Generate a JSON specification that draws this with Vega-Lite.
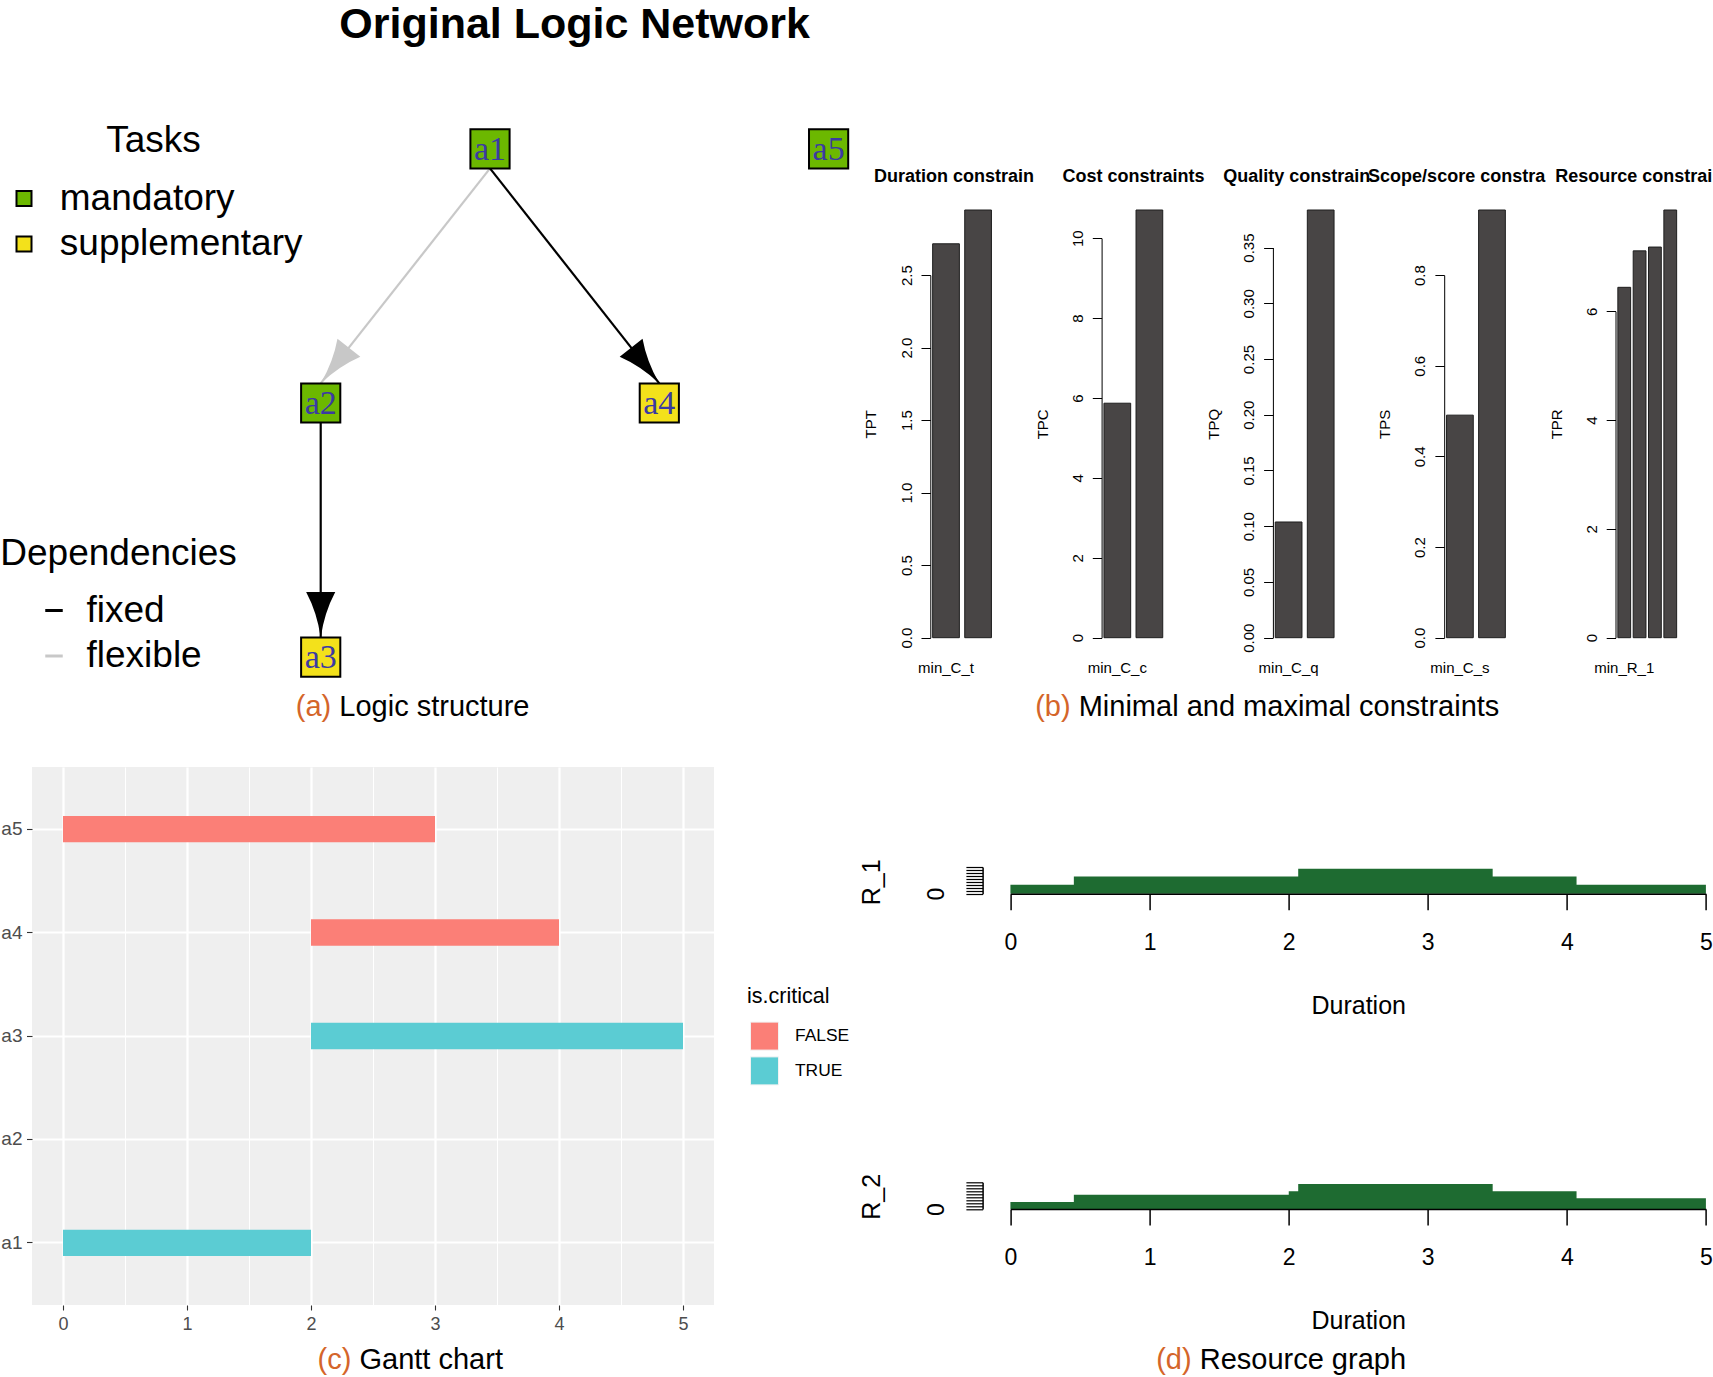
{
  "$schema": "https://vega.github.io/schema/vega-lite/v6.json",
  "padding": {"top": 3, "bottom": 0, "left": 0, "right": 0},
  "background": "white",
  "title": {"text": "Original Logic Network", "anchor": "start", "dx": 339, "fontSize": 43, "fontWeight": "bold", "baseline": "alphabetic", "offset": 42.4, "color": "black"},
  "config": {
    "font": "Liberation Sans",
    "view": {"stroke": null},
    "axis": {"labelColor": "black", "titleColor": "black", "tickColor": "black", "domainColor": "black", "titleFontWeight": "normal", "labelFont": "Liberation Sans", "titleFont": "Liberation Sans", "grid": false},
    "legend": {"labelColor": "black", "titleColor": "black", "titleFontWeight": "normal", "labelFont": "Liberation Sans", "titleFont": "Liberation Sans"},
    "title": {"color": "black", "font": "Liberation Sans"}
  },
  "resolve": {
    "scale": {"color": "independent", "fill": "independent", "stroke": "independent", "angle": "independent"},
    "legend": {"color": "independent", "fill": "independent", "stroke": "independent"}
  },
  "datasets": {
    "nodes": [
      {"id": "a1", "lx": 2, "ly": 0, "type": "mandatory"},
      {"id": "a2", "lx": 1, "ly": 1, "type": "mandatory"},
      {"id": "a3", "lx": 1, "ly": 2, "type": "supplementary"},
      {"id": "a4", "lx": 3, "ly": 1, "type": "supplementary"},
      {"id": "a5", "lx": 4, "ly": 0, "type": "mandatory"}
    ],
    "edges": [
      {"from": "a1", "to": "a2", "dependency": "flexible"},
      {"from": "a1", "to": "a4", "dependency": "fixed"},
      {"from": "a2", "to": "a3", "dependency": "fixed"}
    ],
    "constraints": [
      {"panel": "Duration", "name": "min_C_t", "value": 2.716},
      {"panel": "Duration", "name": "max_C_t", "value": 2.949},
      {"panel": "Cost", "name": "min_C_c", "value": 5.87},
      {"panel": "Cost", "name": "max_C_c", "value": 10.707},
      {"panel": "Quality", "name": "min_C_q", "value": 0.1038},
      {"panel": "Quality", "name": "max_C_q", "value": 0.3837},
      {"panel": "Scope", "name": "min_C_s", "value": 0.491},
      {"panel": "Scope", "name": "max_C_s", "value": 0.9436},
      {"panel": "Resource", "name": "min_R_1", "value": 6.44},
      {"panel": "Resource", "name": "min_R_2", "value": 7.11},
      {"panel": "Resource", "name": "max_R_1", "value": 7.18},
      {"panel": "Resource", "name": "max_R_2", "value": 7.861}
    ],
    "gantt": [
      {"task": "a1", "start": 0, "end": 2, "critical": "TRUE"},
      {"task": "a2", "start": 2, "end": 2, "critical": "TRUE"},
      {"task": "a3", "start": 2, "end": 5, "critical": "TRUE"},
      {"task": "a4", "start": 2, "end": 4, "critical": "FALSE"},
      {"task": "a5", "start": 0, "end": 3, "critical": "FALSE"}
    ],
    "resource": [
      {"resource": "R_1", "time": 0, "level": 3.03},
      {"resource": "R_1", "time": 0.456, "level": 5.83},
      {"resource": "R_1", "time": 2.069, "level": 8.43},
      {"resource": "R_1", "time": 3.467, "level": 5.83},
      {"resource": "R_1", "time": 4.07, "level": 3.03},
      {"resource": "R_1", "time": 5, "level": 3.03},
      {"resource": "R_2", "time": 0, "level": 2.36},
      {"resource": "R_2", "time": 0.456, "level": 4.82},
      {"resource": "R_2", "time": 2.001, "level": 5.97},
      {"resource": "R_2", "time": 2.069, "level": 8.43},
      {"resource": "R_2", "time": 3.467, "level": 5.97},
      {"resource": "R_2", "time": 4.07, "level": 3.61},
      {"resource": "R_2", "time": 5, "level": 3.61}
    ],
    "captions": [
      {"panel": "a", "tag": "(a)", "body": "Logic structure"},
      {"panel": "b", "tag": "(b)", "body": "Minimal and maximal constraints"},
      {"panel": "c", "tag": "(c)", "body": "Gantt chart"},
      {"panel": "d", "tag": "(d)", "body": "Resource graph"}
    ]
  },
  "spacing": 45,
  "vconcat": [
    {
      "spacing": 10.7,
      "vconcat": [
        {
          "bounds": "flush",
          "spacing": 107.3,
          "hconcat": [
            {
              "width": 791,
              "height": 427.7,
              "layer": [
                {
                  "data": {"name": "edges"},
                  "transform": [
                    {"lookup": "from", "from": {"data": {"name": "nodes"}, "key": "id", "fields": ["lx", "ly"]}, "as": ["x1", "y1"]},
                    {"lookup": "to", "from": {"data": {"name": "nodes"}, "key": "id", "fields": ["lx", "ly"]}, "as": ["x2", "y2"]}
                  ],
                  "mark": {"type": "rule", "strokeWidth": 2.2, "yOffset": 19.6, "y2Offset": -19.6},
                  "encoding": {
                    "x": {"field": "x1", "type": "quantitative", "scale": {"domain": [-0.7053, 3.9669], "nice": false, "zero": false}, "axis": null},
                    "y": {"field": "y1", "type": "quantitative", "scale": {"domain": [0.2408, 1.9233], "nice": false, "zero": false, "reverse": true}, "axis": null},
                    "x2": {"field": "x2"},
                    "y2": {"field": "y2"},
                    "stroke": {
                      "field": "dependency", "type": "nominal",
                      "scale": {"domain": ["fixed", "flexible"], "range": ["#000000", "#C8C8C8"]},
                      "legend": {"title": "Dependencies", "orient": "none", "legendX": -31.7, "legendY": 326, "padding": 0, "titleFontSize": 37, "titleLimit": 600, "labelFontSize": 37, "labelLimit": 600, "symbolType": "stroke", "symbolSize": 306, "symbolStrokeWidth": 3, "symbolOffset": 35.2, "labelOffset": 14, "titlePadding": 19, "rowPadding": 7.5}
                    }
                  }
                },
                {
                  "data": {"name": "edges"},
                  "transform": [
                    {"lookup": "to", "from": {"data": {"name": "nodes"}, "key": "id", "fields": ["lx", "ly"]}, "as": ["tx", "ty"]}
                  ],
                  "mark": {"type": "point", "shape": "M-0.32,-1 L0.32,-1 Q0.08,-0.55 0,0 Q-0.08,-0.55 -0.32,-1 Z", "size": 8281, "filled": true, "opacity": 1, "strokeWidth": 0, "yOffset": -19.6},
                  "encoding": {
                    "x": {"field": "tx", "type": "quantitative"},
                    "y": {"field": "ty", "type": "quantitative"},
                    "color": {"field": "dependency", "type": "nominal", "scale": {"domain": ["fixed", "flexible"], "range": ["#000000", "#C8C8C8"]}, "legend": null},
                    "angle": {"field": "to", "type": "nominal", "scale": {"type": "ordinal", "domain": ["a2", "a4", "a3"], "range": [38.3, -38.3, 0]}, "legend": null}
                  }
                },
                {
                  "data": {"name": "nodes"},
                  "mark": {"type": "point", "shape": "square", "size": 1536, "filled": true, "stroke": "black", "strokeWidth": 2, "opacity": 1},
                  "encoding": {
                    "x": {"field": "lx", "type": "quantitative"},
                    "y": {"field": "ly", "type": "quantitative"},
                    "fill": {
                      "field": "type", "type": "nominal",
                      "scale": {"domain": ["mandatory", "supplementary"], "range": ["#6CB800", "#F3E11B"]},
                      "legend": {"title": "Tasks", "orient": "none", "legendX": -26.5, "legendY": -87, "padding": 0, "titleFontSize": 37, "titleLimit": 600, "titleAnchor": "middle", "titleAlign": "center", "labelFontSize": 37, "labelLimit": 600, "symbolType": "square", "symbolSize": 225, "symbolStrokeColor": "black", "symbolStrokeWidth": 2, "labelOffset": 17.3, "titlePadding": 20, "rowPadding": 7.6}
                    }
                  }
                },
                {
                  "data": {"name": "nodes"},
                  "mark": {"type": "text", "font": "Liberation Serif", "fontSize": 34, "color": "#3b3aa3", "align": "center", "baseline": "middle", "dy": 1},
                  "encoding": {
                    "x": {"field": "lx", "type": "quantitative"},
                    "y": {"field": "ly", "type": "quantitative"},
                    "text": {"field": "id"}
                  }
                }
              ]
            },
            {
              "width": 63.5, "height": 427.7,
              "data": {"name": "constraints"},
              "transform": [{"filter": "datum.panel == 'Duration'"}],
              "title": {"text": "Duration constrain", "anchor": "start", "frame": "group", "dx": -56.3, "fontSize": 18, "fontWeight": "bold", "baseline": "alphabetic", "offset": 9.4},
              "mark": {"type": "bar", "fill": "#484545", "stroke": "#1e1e1e", "strokeWidth": 1},
              "encoding": {
                "x": {"field": "name", "type": "nominal", "sort": null, "scale": {"paddingInner": 0.1667, "paddingOuter": 0.0733}, "axis": {"title": null, "labelAngle": 0, "ticks": false, "tickSize": 0, "domain": false, "labelPadding": 34.4, "labelBaseline": "alphabetic", "labelFontSize": 15, "labelOverlap": false, "labelExpr": "datum.index == 0 ? datum.label : ''"}},
                "y": {"field": "value", "type": "quantitative", "scale": {"nice": false}, "axis": {"title": "TPT", "values": [0, 0.5, 1, 1.5, 2, 2.5], "format": ".1f", "labelAngle": -90, "labelAlign": "center", "labelBaseline": "alphabetic", "labelPadding": 10, "tickSize": 9.3, "labelFontSize": 15, "labelOverlap": false, "domainDash": [362.6, 3000], "titleFontSize": 15, "titleX": -54.5, "titleY": 213.85, "titleBaseline": "alphabetic", "titleAngle": 270}}
              }
            },
            {
              "width": 63.5, "height": 427.7,
              "data": {"name": "constraints"},
              "transform": [{"filter": "datum.panel == 'Cost'"}],
              "title": {"text": "Cost constraints", "anchor": "start", "frame": "group", "dx": -39.2, "fontSize": 18, "fontWeight": "bold", "baseline": "alphabetic", "offset": 9.4},
              "mark": {"type": "bar", "fill": "#484545", "stroke": "#1e1e1e", "strokeWidth": 1},
              "encoding": {
                "x": {"field": "name", "type": "nominal", "sort": null, "scale": {"paddingInner": 0.1667, "paddingOuter": 0.0733}, "axis": {"title": null, "labelAngle": 0, "ticks": false, "tickSize": 0, "domain": false, "labelPadding": 34.4, "labelBaseline": "alphabetic", "labelFontSize": 15, "labelOverlap": false, "labelExpr": "datum.index == 0 ? datum.label : ''"}},
                "y": {"field": "value", "type": "quantitative", "scale": {"nice": false}, "axis": {"title": "TPC", "values": [0, 2, 4, 6, 8, 10], "format": "d", "labelAngle": -90, "labelAlign": "center", "labelBaseline": "alphabetic", "labelPadding": 10, "tickSize": 9.3, "labelFontSize": 15, "labelOverlap": false, "domainDash": [399.5, 3000], "titleFontSize": 15, "titleX": -54.5, "titleY": 213.85, "titleBaseline": "alphabetic", "titleAngle": 270}}
              }
            },
            {
              "width": 63.5, "height": 427.7,
              "data": {"name": "constraints"},
              "transform": [{"filter": "datum.panel == 'Quality'"}],
              "title": {"text": "Quality constrain", "anchor": "start", "frame": "group", "dx": -49.7, "fontSize": 18, "fontWeight": "bold", "baseline": "alphabetic", "offset": 9.4},
              "mark": {"type": "bar", "fill": "#484545", "stroke": "#1e1e1e", "strokeWidth": 1},
              "encoding": {
                "x": {"field": "name", "type": "nominal", "sort": null, "scale": {"paddingInner": 0.1667, "paddingOuter": 0.0733}, "axis": {"title": null, "labelAngle": 0, "ticks": false, "tickSize": 0, "domain": false, "labelPadding": 34.4, "labelBaseline": "alphabetic", "labelFontSize": 15, "labelOverlap": false, "labelExpr": "datum.index == 0 ? datum.label : ''"}},
                "y": {"field": "value", "type": "quantitative", "scale": {"nice": false}, "axis": {"title": "TPQ", "values": [0, 0.05, 0.1, 0.15, 0.2, 0.25, 0.3, 0.35], "format": ".2f", "labelAngle": -90, "labelAlign": "center", "labelBaseline": "alphabetic", "labelPadding": 10, "tickSize": 9.3, "labelFontSize": 15, "labelOverlap": false, "domainDash": [390.2, 3000], "titleFontSize": 15, "titleX": -54.5, "titleY": 213.85, "titleBaseline": "alphabetic", "titleAngle": 270}}
              }
            },
            {
              "width": 63.5, "height": 427.7,
              "data": {"name": "constraints"},
              "transform": [{"filter": "datum.panel == 'Scope'"}],
              "title": {"text": "Scope/score constra", "anchor": "start", "frame": "group", "dx": -76.1, "fontSize": 18, "fontWeight": "bold", "baseline": "alphabetic", "offset": 9.4},
              "mark": {"type": "bar", "fill": "#484545", "stroke": "#1e1e1e", "strokeWidth": 1},
              "encoding": {
                "x": {"field": "name", "type": "nominal", "sort": null, "scale": {"paddingInner": 0.1667, "paddingOuter": 0.0733}, "axis": {"title": null, "labelAngle": 0, "ticks": false, "tickSize": 0, "domain": false, "labelPadding": 34.4, "labelBaseline": "alphabetic", "labelFontSize": 15, "labelOverlap": false, "labelExpr": "datum.index == 0 ? datum.label : ''"}},
                "y": {"field": "value", "type": "quantitative", "scale": {"nice": false}, "axis": {"title": "TPS", "values": [0, 0.2, 0.4, 0.6, 0.8], "format": ".1f", "labelAngle": -90, "labelAlign": "center", "labelBaseline": "alphabetic", "labelPadding": 10, "tickSize": 9.3, "labelFontSize": 15, "labelOverlap": false, "domainDash": [362.6, 3000], "titleFontSize": 15, "titleX": -54.5, "titleY": 213.85, "titleBaseline": "alphabetic", "titleAngle": 270}}
              }
            },
            {
              "width": 63.5, "height": 427.7,
              "data": {"name": "constraints"},
              "transform": [{"filter": "datum.panel == 'Resource'"}],
              "title": {"text": "Resource constrai", "anchor": "start", "frame": "group", "dx": -60.3, "fontSize": 18, "fontWeight": "bold", "baseline": "alphabetic", "offset": 9.4},
              "mark": {"type": "bar", "fill": "#484545", "stroke": "#1e1e1e", "strokeWidth": 1},
              "encoding": {
                "x": {"field": "name", "type": "nominal", "sort": null, "scale": {"paddingInner": 0.1667, "paddingOuter": 0.1533}, "axis": {"title": null, "labelAngle": 0, "ticks": false, "tickSize": 0, "domain": false, "labelPadding": 34.4, "labelBaseline": "alphabetic", "labelFontSize": 15, "labelOverlap": false, "labelExpr": "datum.index == 0 ? datum.label : ''"}},
                "y": {"field": "value", "type": "quantitative", "scale": {"nice": false}, "axis": {"title": "TPR", "values": [0, 2, 4, 6], "format": "d", "labelAngle": -90, "labelAlign": "center", "labelBaseline": "alphabetic", "labelPadding": 10, "tickSize": 9.3, "labelFontSize": 15, "labelOverlap": false, "domainDash": [326.5, 3000], "titleFontSize": 15, "titleX": -54.5, "titleY": 213.85, "titleBaseline": "alphabetic", "titleAngle": 270}}
              }
            }
          ]
        },
        {
          "bounds": "flush",
          "spacing": 0,
          "hconcat": [
            {
              "width": 761.6, "height": 30,
              "data": {"name": "captions"},
              "transform": [{"filter": "datum.panel == 'a'"}],
              "layer": [
                {"mark": {"type": "text", "align": "left", "baseline": "middle", "fontSize": 29, "color": "#D4652A", "dx": -117}, "encoding": {"text": {"field": "tag"}}},
                {"mark": {"type": "text", "align": "left", "baseline": "middle", "fontSize": 29, "color": "black", "dx": -73.5}, "encoding": {"text": {"field": "body"}}}
              ]
            },
            {
              "width": 880, "height": 30,
              "data": {"name": "captions"},
              "transform": [{"filter": "datum.panel == 'b'"}],
              "layer": [
                {"mark": {"type": "text", "align": "left", "baseline": "middle", "fontSize": 29, "color": "#D4652A", "dx": -198.8}, "encoding": {"text": {"field": "tag"}}},
                {"mark": {"type": "text", "align": "left", "baseline": "middle", "fontSize": 29, "color": "black", "dx": -155.3}, "encoding": {"text": {"field": "body"}}}
              ]
            }
          ]
        }
      ]
    },
    {
      "spacing": 12,
      "vconcat": [
        {
          "spacing": 145.6,
          "hconcat": [
            {
              "width": 682, "height": 538,
              "view": {"fill": "#EFEFEF", "stroke": null},
              "data": {"name": "gantt"},
              "mark": {"type": "bar"},
              "encoding": {
                "y": {"field": "task", "type": "nominal", "sort": ["a5", "a4", "a3", "a2", "a1"], "scale": {"paddingInner": 0.7452, "paddingOuter": 0.4726}, "axis": {"title": null, "bandPosition": 0.5, "grid": true, "gridColor": "white", "gridWidth": 2.2, "domain": false, "tickSize": 5.5, "tickColor": "#333333", "tickWidth": 1.1, "labelFontSize": 19, "labelColor": "#4D4D4D", "labelPadding": 4.5, "labelBaseline": "middle"}},
                "x": {"field": "start", "type": "quantitative", "scale": {"domain": [-0.25, 5.25], "nice": false, "zero": false}, "axis": {"title": null, "values": [0, 0.5, 1, 1.5, 2, 2.5, 3, 3.5, 4, 4.5, 5], "labelExpr": "datum.value % 1 == 0 ? format(datum.value, 'd') : ''", "grid": true, "gridColor": "white", "gridWidth": {"condition": {"test": "datum.value % 1 != 0", "value": 1.1}, "value": 2.2}, "domain": false, "tickSize": 5, "tickColor": "#333333", "tickWidth": 1.1, "tickOpacity": {"condition": {"test": "datum.value % 1 != 0", "value": 0}, "value": 1}, "labelFontSize": 18, "labelColor": "#4D4D4D", "labelPadding": 19.3, "labelBaseline": "alphabetic", "labelFlush": false, "labelOverlap": false}},
                "x2": {"field": "end"},
                "color": {"field": "critical", "type": "nominal", "scale": {"domain": ["FALSE", "TRUE"], "range": ["#FB7F77", "#5BCCD3"]}, "legend": {"title": "is.critical", "orient": "none", "legendX": 715, "legendY": 218.8, "padding": 0, "titleFontSize": 21.5, "labelFontSize": 17.4, "symbolType": "square", "symbolSize": 784, "symbolStrokeColor": "#F2F2F2", "symbolStrokeWidth": 1, "symbolOpacity": 1, "symbolOffset": 3, "labelOffset": 16, "titlePadding": 14.3, "rowPadding": 1.8}}
              }
            },
            {
              "bounds": "flush",
              "spacing": 188.3,
              "vconcat": [
                {
                  "width": 724, "height": 126.7,
                  "data": {"name": "resource"},
                  "transform": [{"filter": "datum.resource == 'R_1'"}],
                  "mark": {"type": "area", "interpolate": "step-after", "color": "#1e6b31", "opacity": 1},
                  "encoding": {
                    "x": {"field": "time", "type": "quantitative", "scale": {"domain": [-0.2, 5.005], "nice": false, "zero": false}, "axis": {"title": "Duration", "values": [0, 1, 2, 3, 4, 5], "format": "d", "tickSize": 16, "tickWidth": 1.5, "domainWidth": 1.5, "domainDash": [0, 27.8, 695.5, 3000], "labelFontSize": 23, "labelBaseline": "alphabetic", "labelPadding": 39.5, "labelFlush": false, "labelOverlap": false, "titleFontSize": 25, "titleX": 375.6, "titleY": 119.6, "titleBaseline": "alphabetic", "zindex": 1}},
                    "y": {"field": "level", "type": "quantitative", "scale": {"domain": [0, 42.7], "nice": false}, "axis": {"title": "R_1", "values": [0, 1, 2, 3, 4, 5, 6, 7, 8, 9], "labelExpr": "datum.value == 0 ? '0' : ''", "tickSize": 16.7, "tickWidth": 1.2, "domainWidth": 1.5, "domainDash": [26.7, 3000], "labelAngle": -90, "labelAlign": "center", "labelBaseline": "alphabetic", "labelPadding": 22.8, "labelFontSize": 23, "labelOverlap": false, "titleFontSize": 25, "titleX": -103, "titleY": 114.8, "titleBaseline": "alphabetic", "titleAngle": 270}}
                  }
                },
                {
                  "width": 724, "height": 126.7,
                  "data": {"name": "resource"},
                  "transform": [{"filter": "datum.resource == 'R_2'"}],
                  "mark": {"type": "area", "interpolate": "step-after", "color": "#1e6b31", "opacity": 1},
                  "encoding": {
                    "x": {"field": "time", "type": "quantitative", "scale": {"domain": [-0.2, 5.005], "nice": false, "zero": false}, "axis": {"title": "Duration", "values": [0, 1, 2, 3, 4, 5], "format": "d", "tickSize": 16, "tickWidth": 1.5, "domainWidth": 1.5, "domainDash": [0, 27.8, 695.5, 3000], "labelFontSize": 23, "labelBaseline": "alphabetic", "labelPadding": 39.5, "labelFlush": false, "labelOverlap": false, "titleFontSize": 25, "titleX": 375.6, "titleY": 119.6, "titleBaseline": "alphabetic", "zindex": 1}},
                    "y": {"field": "level", "type": "quantitative", "scale": {"domain": [0, 42.7], "nice": false}, "axis": {"title": "R_2", "values": [0, 1, 2, 3, 4, 5, 6, 7, 8, 9], "labelExpr": "datum.value == 0 ? '0' : ''", "tickSize": 16.7, "tickWidth": 1.2, "domainWidth": 1.5, "domainDash": [26.7, 3000], "labelAngle": -90, "labelAlign": "center", "labelBaseline": "alphabetic", "labelPadding": 22.8, "labelFontSize": 23, "labelOverlap": false, "titleFontSize": 25, "titleX": -103, "titleY": 114, "titleBaseline": "alphabetic", "titleAngle": 270}}
                  }
                }
              ]
            }
          ]
        },
        {
          "bounds": "flush",
          "spacing": 0,
          "hconcat": [
            {
              "width": 756.6, "height": 26,
              "data": {"name": "captions"},
              "transform": [{"filter": "datum.panel == 'c'"}],
              "layer": [
                {"mark": {"type": "text", "align": "left", "baseline": "middle", "fontSize": 29, "color": "#D4652A", "dx": -92.7}, "encoding": {"text": {"field": "tag"}}},
                {"mark": {"type": "text", "align": "left", "baseline": "middle", "fontSize": 29, "color": "black", "dx": -50.8}, "encoding": {"text": {"field": "body"}}}
              ]
            },
            {
              "width": 880, "height": 26,
              "data": {"name": "captions"},
              "transform": [{"filter": "datum.panel == 'd'"}],
              "layer": [
                {"mark": {"type": "text", "align": "left", "baseline": "middle", "fontSize": 29, "color": "#D4652A", "dx": -72.8}, "encoding": {"text": {"field": "tag"}}},
                {"mark": {"type": "text", "align": "left", "baseline": "middle", "fontSize": 29, "color": "black", "dx": -29.3}, "encoding": {"text": {"field": "body"}}}
              ]
            }
          ]
        }
      ]
    }
  ]
}
